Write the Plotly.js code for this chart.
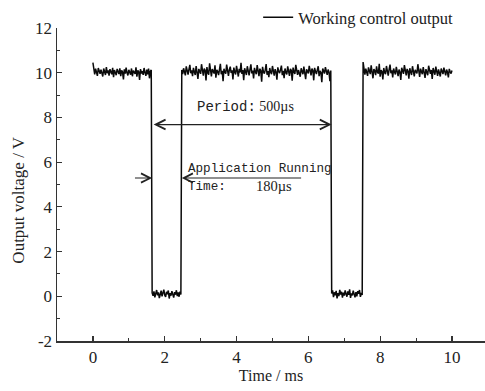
<!DOCTYPE html>
<html>
<head>
<meta charset="utf-8">
<script src="https://cdn.plot.ly/plotly-3.0.1.min.js"></script>
<style>html,body{margin:0;padding:0;background:#fff;}#chart{width:485px;height:391px;}</style>
</head>
<body>
<div id="chart"></div>
<script>
// Sampling: t0 = 0 ms, step 0.025 ms
var sampleStart = 0;
var sampleStep = 0.025;

var high1 = [10.45,10.08,9.92,10.18,10.02,9.86,10.21,10.05,9.95,10.14,
10.00,9.83,10.19,10.07,9.90,10.25,9.98,10.10,9.87,10.16,
10.04,9.93,10.22,9.80,10.12,10.01,9.89,10.17,10.06,9.94,
10.20,9.85,10.11,10.03,9.70,10.15,9.96,10.23,10.00,9.88,
10.13,10.05,9.91,10.19,9.84,10.09,10.02,9.95,10.24,9.82,
10.10,10.04,9.68,10.16,9.97,10.07,9.90,10.21,10.01,9.86,
10.14,9.93,10.18,9.75,10.06,10.12];

var low1 = [0.15,0.02,0.22,-0.05,0.12,0.28,0.04,0.18,-0.08,0.10,
0.25,0.00,0.16,0.30,0.06,-0.03,0.20,0.09,0.26,-0.10,
0.14,0.03,0.23,0.11,-0.06,0.19,0.07,0.27,0.01,0.17,
-0.02,0.21,0.08];

var high2 = [10.12,9.94,10.20,10.03,9.88,10.28,10.06,9.92,10.15,10.35,
9.98,10.10,9.85,10.22,10.04,9.90,10.30,10.01,9.72,10.17,
10.08,9.95,10.38,10.02,9.87,10.19,10.11,9.65,10.25,10.00,
9.91,10.42,10.07,9.84,10.16,10.03,9.97,10.33,9.78,10.13,
10.05,9.89,10.21,10.40,9.93,10.09,9.62,10.18,10.02,9.96,
10.36,10.06,9.86,10.14,10.27,9.99,10.11,9.70,10.23,10.04,
9.92,10.31,10.08,9.83,10.17,10.01,10.44,9.95,10.12,9.67,
10.20,10.06,9.90,10.29,10.03,9.88,10.15,10.37,9.97,10.10,
9.74,10.22,10.05,9.93,10.34,10.00,9.85,10.18,10.09,9.60,
10.26,10.04,9.96,10.13,10.39,9.91,10.07,9.80,10.21,10.02,
9.94,10.30,10.11,9.87,10.16,10.03,9.69,10.24,10.06,9.98,
10.14,10.32,9.89,10.08,9.76,10.19,10.01,9.92,10.28,10.05,
9.86,10.17,10.10,9.64,10.23,10.03,9.95,10.35,10.07,9.90,
10.12,10.00,9.82,10.20,10.09,9.93,10.27,10.04,9.71,10.15,
10.06,9.97,10.31,10.02,9.88,10.18,10.11,9.66,10.22,10.05,
9.94,10.13,10.29,9.85,10.08,10.01,9.58,10.19,10.04,9.96,
10.25,10.07,9.90,10.14,10.02,9.62,10.10];

var low2 = [0.12,0.27,-0.04,0.18,0.05,0.24,-0.09,0.14,0.01,0.29,
0.08,0.20,-0.06,0.16,0.03,0.26,0.10,-0.02,0.22,0.07,
0.31,-0.07,0.13,0.04,0.25,0.09,-0.05,0.19,0.00,0.23,
0.11,0.28,-0.03,0.15,0.06];

var high3 = [10.48,10.05,9.91,10.18,10.02,9.86,10.24,10.07,9.94,10.33,
10.00,9.75,10.16,10.09,9.89,10.28,10.03,9.96,10.40,9.82,
10.12,10.05,9.70,10.21,10.01,9.93,10.30,10.08,9.87,10.15,
10.36,9.98,10.11,9.79,10.19,10.04,9.92,10.26,10.06,9.85,
10.14,10.02,9.68,10.22,10.09,9.95,10.34,10.01,9.88,10.17,
10.07,9.73,10.20,10.03,9.90,10.29,10.10,9.84,10.13,10.05,
9.97,10.38,10.00,9.81,10.18,10.08,9.93,10.25,10.04,9.77,
10.16,10.02,9.89,10.31,10.06,9.95,10.12,9.72,10.21,10.03,
9.91,10.27,10.09,9.86,10.15,10.01,9.83,10.19,10.05,9.94,
10.23,10.07,9.88,10.14,10.02,9.79,10.17,10.04,9.96,10.10];

// Annotation anchor values (data units)
var periodStart = 1.65, periodEnd = 6.65, periodY = 7.68;
var runStart = 1.65, runEnd = 2.475, runY = 5.29;

var xTicks = [0, 2, 4, 6, 8, 10];
var yTicks = [-2, 0, 2, 4, 6, 8, 10, 12];

var signal = [].concat(high1, low1, high2, low2, high3);

var mono = 'Liberation Mono, DejaVu Sans Mono, monospace';
var serif = 'Liberation Serif, Times New Roman, serif';

var trace = {
  type: 'scatter', mode: 'lines',
  x0: sampleStart, dx: sampleStep, y: signal,
  name: 'Working control output',
  line: {color: '#0a0a0a', width: 1.5}
};

var layout = {
  width: 485, height: 391,
  margin: {l: 57, r: 0, t: 22, b: 50},
  paper_bgcolor: '#fff', plot_bgcolor: '#fff',
  font: {family: serif, size: 16, color: '#222'},
  showlegend: true,
  legend: {x: 0.47, xanchor: 'left', y: 1.035, yanchor: 'middle',
           bgcolor: 'rgba(0,0,0,0)', font: {family: serif, size: 16.5, color: '#222'}},
  xaxis: {
    range: [-1, 10.92], showgrid: false, zeroline: false,
    showline: true, linecolor: '#333', linewidth: 1.5,
    ticks: 'inside', ticklen: 5, tickcolor: '#333', tickwidth: 1.2,
    tickmode: 'array', tickvals: xTicks, ticktext: xTicks.map(String),
    minor: {dtick: 1, tick0: 1, ticks: 'inside', ticklen: 3, tickcolor: '#333', tickwidth: 1},
    tickfont: {family: serif, size: 17, color: '#222'},
    title: {text: 'Time / ms', font: {family: serif, size: 16, color: '#222'}, standoff: 4}
  },
  yaxis: {
    range: [-2, 12], showgrid: false, zeroline: false,
    showline: true, linecolor: '#333', linewidth: 1.5,
    ticks: 'inside', ticklen: 5, tickcolor: '#333', tickwidth: 1.2,
    tickmode: 'array', tickvals: yTicks, ticktext: yTicks.map(String),
    minor: {dtick: 1, tick0: 1, ticks: 'inside', ticklen: 3, tickcolor: '#333', tickwidth: 1},
    tickfont: {family: serif, size: 17, color: '#222'},
    title: {text: ''}
  },
  annotations: [
    {x: -0.09, y: 0.45, xref: 'paper', yref: 'paper', xanchor: 'center', yanchor: 'middle',
     showarrow: false, textangle: -90,
     text: 'Output voltage / V', font: {family: serif, size: 17, color: '#222'}},
    {x: periodEnd, y: periodY, ax: periodStart, ay: periodY, xref: 'x', yref: 'y', axref: 'x', ayref: 'y',
     showarrow: true, arrowhead: 5, startarrowhead: 5, arrowside: 'end+start', arrowsize: 1.6, arrowwidth: 1.2,
     arrowcolor: '#222', text: ''},
    {x: 4.26, y: 8.46, xref: 'x', yref: 'y', showarrow: false,
     text: '<span style="font-family:' + mono + '">Period:</span> 500µs',
     font: {family: serif, size: 14, color: '#222'}},
    {x: runStart, y: runY, ax: 1.13, ay: runY, xref: 'x', yref: 'y', axref: 'x', ayref: 'y',
     showarrow: true, arrowhead: 5, arrowsize: 1.5, arrowwidth: 1.2, arrowcolor: '#222', text: ''},
    {x: runEnd, y: runY, ax: 5.84, ay: runY, xref: 'x', yref: 'y', axref: 'x', ayref: 'y',
     showarrow: true, arrowhead: 5, arrowsize: 1.5, arrowwidth: 1.2, arrowcolor: '#222', text: ''},
    {x: 2.58, y: 5.7, xref: 'x', yref: 'y', xanchor: 'left', showarrow: false,
     text: 'Application Running', font: {family: mono, size: 12.6, color: '#222'}},
    {x: 2.58, y: 4.89, xref: 'x', yref: 'y', xanchor: 'left', showarrow: false,
     text: 'Time:', font: {family: mono, size: 12.6, color: '#222'}},
    {x: 5.04, y: 4.95, xref: 'x', yref: 'y', showarrow: false,
     text: '180µs', font: {family: serif, size: 14.5, color: '#222'}}
  ]
};

Plotly.newPlot('chart', [trace], layout, {staticPlot: true, displayModeBar: false});
</script>
</body>
</html>
